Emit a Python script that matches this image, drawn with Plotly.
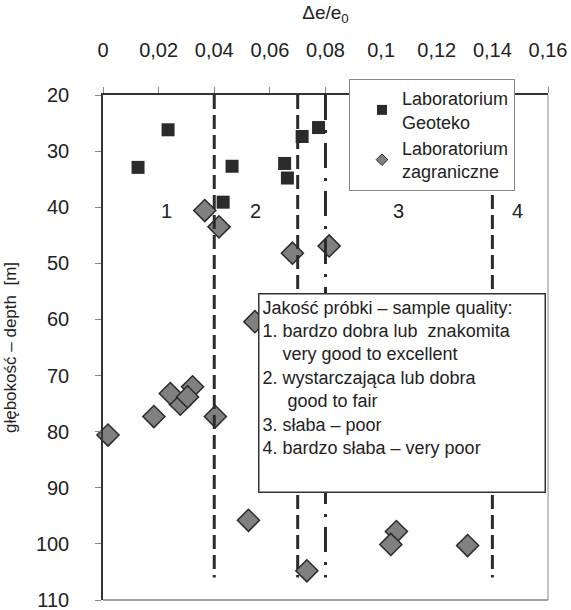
import plotly.graph_objects as go

# ---- data ----
geoteko_x = [0.0234, 0.0126, 0.0464, 0.0432, 0.0653, 0.0663, 0.0716, 0.0775]
geoteko_y = [26.2, 32.9, 32.7, 39.1, 32.2, 34.8, 27.4, 25.8]

foreign_x = [0.0366, 0.0417, 0.0813, 0.0681, 0.0546, 0.0278, 0.0242, 0.0322,
             0.0304, 0.0183, 0.0404, 0.0018, 0.0523, 0.1055, 0.1035, 0.1311, 0.0733]
foreign_y = [40.6, 43.5, 46.9, 48.2, 60.4, 75.1, 73.2, 72.0,
             73.8, 77.3, 77.3, 80.6, 95.8, 97.8, 100.1, 100.3, 104.8]

bound_x = [0.04, 0.07, 0.08, 0.14]
bound_dash = ["14px,6px", "14px,6px", "25px,10px,3px,10px", "14px,6px"]
bound_y = [20, 106]

zone_labels = ["1", "2", "3", "4"]
zone_x = [0.0229, 0.0548, 0.1063, 0.1491]
zone_y = [40.7, 40.7, 40.7, 40.7]

x_ticks = [0, 0.02, 0.04, 0.06, 0.08, 0.1, 0.12, 0.14, 0.16]
x_ticktext = ["0", "0,02", "0,04", "0,06", "0,08", "0,1", "0,12", "0,14", "0,16"]
y_ticks = [20, 30, 40, 50, 60, 70, 80, 90, 100, 110]

FONT = "Liberation Sans, Arial, sans-serif"
DARK = "#2b2b2b"

fig = go.Figure()

fig.add_trace(go.Scatter(
    x=geoteko_x, y=geoteko_y, mode="markers", showlegend=False, cliponaxis=False,
    marker=dict(symbol="square", size=13, color=DARK, line=dict(width=0))))
fig.add_trace(go.Scatter(
    x=foreign_x, y=foreign_y, mode="markers", showlegend=False, cliponaxis=False,
    marker=dict(symbol="diamond", size=17, color="#808080",
                line=dict(width=1.5, color=DARK))))

for bx, dash in zip(bound_x, bound_dash):
    fig.add_trace(go.Scatter(
        x=[bx, bx], y=bound_y, mode="lines", showlegend=False, cliponaxis=False,
        line=dict(color=DARK, width=3, dash=dash), hoverinfo="skip"))

# legend entries (small markers as in the reference legend)
fig.add_trace(go.Scatter(
    x=[None], y=[None], mode="markers", name="Laboratorium<br>Geoteko",
    marker=dict(symbol="square", size=10, color=DARK)))
fig.add_trace(go.Scatter(
    x=[None], y=[None], mode="markers", name="Laboratorium<br>zagraniczne",
    marker=dict(symbol="diamond", size=9, color="#808080",
                line=dict(width=1, color=DARK))))

annotations = []
for t, zx, zy in zip(zone_labels, zone_x, zone_y):
    annotations.append(dict(x=zx, y=zy, xref="x", yref="y", text=t, showarrow=False,
                            font=dict(family=FONT, size=20, color="#222")))

box_text = ("Jakość próbki – sample quality:<br>"
            "1. bardzo dobra lub&nbsp; znakomita<br>"
            "&nbsp;&nbsp;&nbsp;&nbsp;very good to excellent<br>"
            "2. wystarczająca lub dobra<br>"
            "&nbsp;&nbsp;&nbsp;&nbsp;&nbsp;good to fair<br>"
            "3. słaba – poor<br>"
            "4. bardzo słaba – very poor")
annotations.append(dict(
    x=0.348, y=0.608, xref="paper", yref="paper", xanchor="left", yanchor="top",
    text=box_text, showarrow=False, align="left", valign="top",
    width=279, height=191, borderpad=3, borderwidth=1.5, bordercolor="#333",
    bgcolor="white", font=dict(family=FONT, size=18, color="#222")))

fig.update_layout(
    width=571, height=610,
    margin=dict(l=103, r=23, t=95, b=10, autoexpand=False),
    paper_bgcolor="white", plot_bgcolor="white",
    font=dict(family=FONT, size=18, color="#222"),
    showlegend=True,
    legend=dict(xref="container", yref="container", x=0.6112, y=0.8705,
                xanchor="left", yanchor="top",
                bgcolor="white", bordercolor="#888", borderwidth=1,
                font=dict(family=FONT, size=18, color="#222"),
                entrywidth=190, entrywidthmode="pixels", indentation=12),
    annotations=annotations,
    shapes=[
        dict(type="line", xref="paper", yref="paper", x0=0, x1=1, y0=0, y1=0,
             line=dict(color="#888", width=1.5), layer="below"),
        dict(type="line", xref="paper", yref="paper", x0=1, x1=1, y0=0, y1=1,
             line=dict(color="#888", width=1), layer="below"),
    ],
    xaxis=dict(side="top", range=[0, 0.16], tickvals=x_ticks, ticktext=x_ticktext,
               automargin=False, ticklabeloverflow="allow",
               showgrid=False, zeroline=False, showline=True, linecolor="#333", linewidth=1.5,
               ticks="outside", ticklen=6, tickcolor="#888", ticklabelstandoff=22,
               tickfont=dict(family=FONT, size=20, color="#222"),
               title=dict(text="Δe/e<sub>0</sub>",
                          font=dict(family=FONT, size=19, color="#222"))),
    yaxis=dict(range=[110, 20], tickvals=y_ticks, automargin=False,
               ticklabeloverflow="allow",
               showgrid=False, zeroline=False, showline=True, linecolor="#333", linewidth=1.5,
               ticks="outside", ticklen=6, tickcolor="#888", ticklabelstandoff=22,
               tickfont=dict(family=FONT, size=20, color="#222"),
               title=dict(text="głębokość – depth&nbsp; [m]",
                          font=dict(family=FONT, size=17, color="#222"))),
)

# remove the default page margin so the 571x610 figure fills the window exactly
fig.write_html(
    "out.html",
    config={"displayModeBar": False},
    post_script="document.body.style.margin='0';"
                "document.documentElement.style.overflow='hidden';",
)
